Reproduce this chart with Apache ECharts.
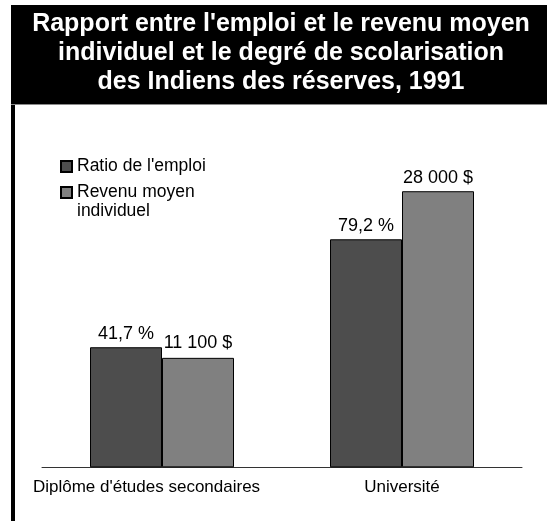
<!DOCTYPE html>
<html>
<head>
<meta charset="utf-8">
<script src="https://cdn.jsdelivr.net/npm/echarts@6/dist/echarts.min.js"></script>
<style>
    html, body {margin: 0; padding: 0; background: #fff;}
    #main {width: 547px; height: 521px;}
</style>
</head>
<body>
<div id="main"></div>
<script>
var categories = ['Diplôme d\'études secondaires', 'Université'];
var seriesNames = ['Ratio de l\'emploi', 'Revenu moyen individuel'];
var emploi = [41.7, 79.2];
var revenu = [11100, 28000];
var emploiLabels = ['41,7 %', '79,2 %'];
var revenuLabels = ['11 100 $', '28 000 $'];
var titleText = 'Rapport entre l\'emploi et le revenu moyen\nindividuel et le degré de scolarisation\ndes Indiens des réserves, 1991';

var FONT = '"Liberation Sans", Arial, sans-serif';

~function () {
    var myChart = echarts.init(document.getElementById('main'));
    var option = {
        backgroundColor: '#fff',
        animation: false,
        textStyle: {fontFamily: FONT},
        graphic: [
            {type: 'rect', shape: {x: 11, y: 5, width: 536, height: 100}, style: {fill: '#000'}, z: 0},
            {type: 'rect', shape: {x: 11, y: 104, width: 536, height: 1}, style: {fill: '#8a8a8a'}, z: 1},
            {type: 'rect', shape: {x: 11, y: 105, width: 4, height: 416}, style: {fill: '#000'}, z: 1},
            {
                type: 'text',
                x: 281,
                y: 10,
                z: 2,
                style: {
                    text: titleText,
                    align: 'center',
                    verticalAlign: 'top',
                    fill: '#fff',
                    fontSize: 25,
                    fontWeight: 'bold',
                    fontFamily: FONT,
                    lineHeight: 29
                }
            }
        ],
        legend: [
            {
                data: [seriesNames[0]],
                left: 60,
                top: 157,
                padding: 0,
                icon: 'rect',
                itemWidth: 11,
                itemHeight: 11,
                selectedMode: false,
                textStyle: {fontSize: 17.5, color: '#000', lineHeight: 19}
            },
            {
                // blank first line keeps the square beside "Revenu moyen"
                data: [seriesNames[1]],
                left: 60,
                top: 164,
                padding: 0,
                icon: 'rect',
                itemWidth: 11,
                itemHeight: 11,
                selectedMode: false,
                formatter: function () {
                    return ' \nRevenu moyen\nindividuel';
                },
                textStyle: {fontSize: 17.5, color: '#000', lineHeight: 19}
            }
        ],
        grid: {
            left: 42,
            right: 25,
            top: 179.4,
            bottom: 53.7,
            containLabel: false,
            outerBoundsMode: 'none'
        },
        xAxis: [
            {
                type: 'category',
                data: [
                    {value: categories[0], textStyle: {padding: [0, 31, 0, 0]}},
                    categories[1]
                ],
                axisTick: {show: false},
                axisLine: {lineStyle: {color: '#333', width: 1}},
                axisLabel: {
                    interval: 0,
                    margin: 10,
                    fontSize: 17,
                    lineHeight: 20,
                    color: '#000'
                }
            }
        ],
        yAxis: [
            {type: 'value', min: 0, max: 100, show: false},
            {type: 'value', min: 0, max: 29200, show: false}
        ],
        series: [
            {
                name: seriesNames[0],
                type: 'bar',
                yAxisIndex: 0,
                barCategoryGap: '40%',
                barGap: 0,
                itemStyle: {color: '#4d4d4d', borderColor: '#000', borderWidth: 1},
                label: {
                    show: true,
                    position: 'top',
                    distance: 4,
                    fontSize: 18,
                    lineHeight: 18,
                    color: '#000',
                    formatter: function (p) {
                        return emploiLabels[p.dataIndex];
                    }
                },
                data: emploi
            },
            {
                name: seriesNames[1],
                type: 'bar',
                yAxisIndex: 1,
                barCategoryGap: '40%',
                barGap: 0,
                itemStyle: {color: '#808080', borderColor: '#000', borderWidth: 1},
                label: {
                    show: true,
                    position: 'top',
                    distance: 4,
                    fontSize: 18,
                    lineHeight: 18,
                    color: '#000',
                    formatter: function (p) {
                        return revenuLabels[p.dataIndex];
                    }
                },
                data: [
                    {value: revenu[0], label: {offset: [0, -2]}},
                    revenu[1]
                ]
            }
        ]
    };
    myChart.setOption(option);
}();
</script>
</body>
</html>
